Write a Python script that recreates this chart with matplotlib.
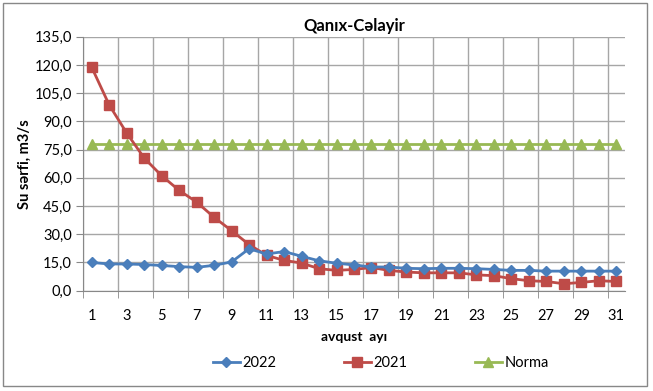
import matplotlib
matplotlib.use("Agg")
import matplotlib.pyplot as plt
from matplotlib.patches import Rectangle
import numpy as np

plt.rcParams['font.family'] = ['Lato', 'DejaVu Sans']

days = list(range(1, 32))
s2022 = [15.0, 14.2, 14.2, 13.9, 13.4, 12.8, 12.4, 13.5, 15.3, 22.3,
         19.5, 20.8, 18.3, 15.9, 14.6, 13.7, 12.6, 12.6, 11.9, 11.7,
         11.9, 11.9, 11.7, 11.3, 10.8, 10.8, 10.4, 10.4, 10.4, 10.4, 10.4]
s2021 = [118.7, 98.7, 83.8, 70.5, 61.1, 53.3, 47.1, 39.0, 31.9, 24.5,
         18.8, 16.1, 14.7, 11.7, 10.8, 11.3, 12.3, 10.8, 9.9, 9.5,
         9.5, 9.5, 8.4, 8.0, 6.4, 5.3, 4.9, 3.7, 4.4, 5.3, 4.9]
norma = [77.8] * 31
yticks = [0, 15, 30, 45, 60, 75, 90, 105, 120, 135]
xtick_labels = list(range(1, 32, 2))

title = "Qanıx-Cəlayir"
ylabel = "Su sərfi, m3/s"
xlabel = "avqust  ayı"

fig = plt.figure(figsize=(6.53, 3.91), dpi=100)
ax = fig.add_axes([83/653, 1-290.7/391, (625-83)/653, (290.7-36.7)/391])

c_blue = '#4A7EBB'
c_red = '#BE4B48'
c_green = '#98B954'

l1, = ax.plot(days, s2022, color=c_blue, marker='D', markersize=5.5, lw=2, label='2022', zorder=4)
l2, = ax.plot(days, s2021, color=c_red, marker='s', markersize=6.5, lw=2, label='2021', zorder=3)
l3, = ax.plot(days, norma, color=c_green, marker='^', markersize=7, lw=2, label='Norma', zorder=2)

ax.set_xlim(0.5, 31.5)
ax.set_ylim(0, 135)
ax.set_yticks(yticks)
ax.set_yticklabels([f"{v:.1f}".replace('.', ',') for v in yticks], fontsize=10.5)
ax.set_xticks(xtick_labels)
ax.set_xticklabels([str(v) for v in xtick_labels], fontsize=10.5)
ax.tick_params(axis='x', which='major', length=0, pad=13)
ax.set_xticks(np.arange(0.5, 32, 2), minor=True)
ax.tick_params(axis='x', which='minor', length=5, color='#888888', direction='out')
ax.tick_params(axis='y', length=5, color='#888888', direction='out', pad=3)

ax.grid(True, axis='y', which='major', color='#a6a6a6', lw=1)
ax.grid(True, axis='x', which='minor', color='#a6a6a6', lw=1)
ax.set_axisbelow(True)
for sp in ['top', 'right']:
    ax.spines[sp].set_visible(False)
for sp in ['left', 'bottom']:
    ax.spines[sp].set_color('#888888')

ax.set_title(title, fontsize=12, fontweight='bold', pad=4)
ax.set_ylabel(ylabel, fontsize=10.5, fontweight='bold', labelpad=2)
ax.set_xlabel(xlabel, fontsize=10, fontweight='bold', labelpad=6)

fig.legend(handles=[l1, l2, l3], loc='center', bbox_to_anchor=(0.583, 1-363/391),
           ncol=3, frameon=False, fontsize=10.5, columnspacing=4.6, handlelength=1.9,
           handletextpad=0.15)

fig.patches.append(Rectangle((3/653, 1-386/391), 644/653, 383/391, transform=fig.transFigure,
                             fill=False, edgecolor='#888888', lw=1))

fig.savefig('out.png', dpi=100)
